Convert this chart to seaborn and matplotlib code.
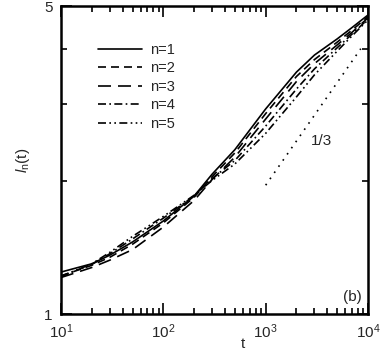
import matplotlib
matplotlib.use("Agg")
import matplotlib.pyplot as plt
import matplotlib.ticker as mticker
import pandas as pd
import seaborn as sns

# time points and l_n(t)
t = [10, 20, 30, 50, 100, 200, 300, 500, 1000, 2000, 3000, 5000, 7000, 10000]
l1 = [1.245, 1.30, 1.36, 1.457, 1.626, 1.852, 2.077, 2.36, 2.92, 3.54, 3.87, 4.21, 4.47, 4.77]
l2 = [1.22, 1.29, 1.345, 1.44, 1.61, 1.84, 2.05, 2.32, 2.85, 3.46, 3.78, 4.14, 4.41, 4.73]
l3 = [1.21, 1.275, 1.325, 1.40, 1.575, 1.81, 2.02, 2.27, 2.77, 3.37, 3.70, 4.08, 4.36, 4.70]
l4 = [1.22, 1.295, 1.37, 1.48, 1.65, 1.855, 2.03, 2.23, 2.67, 3.24, 3.60, 4.02, 4.32, 4.67]
l5 = [1.215, 1.30, 1.38, 1.50, 1.665, 1.86, 2.01, 2.19, 2.57, 3.11, 3.49, 3.95, 4.28, 4.65]
labels = ["n=1", "n=2", "n=3", "n=4", "n=5"]

# slope 1/3 guide line
guide_t = [1000, 8500]
guide_l = [1.96, 4.0]

dfs = []
for lab, vals in zip(labels, [l1, l2, l3, l4, l5]):
    dfs.append(pd.DataFrame({"t": t, "l": vals, "n": lab}))
df = pd.concat(dfs)

sns.set_theme(style="ticks")
plt.rcParams["font.family"] = ["Liberation Sans", "DejaVu Sans"]
plt.rcParams["mathtext.fontset"] = "custom"
plt.rcParams["mathtext.rm"] = "Liberation Sans"
plt.rcParams["mathtext.it"] = "Liberation Sans:italic"

fig = plt.figure(figsize=(3.83, 3.52), dpi=100)
ax = fig.add_axes([61 / 383, 38 / 352, 307 / 383, 308 / 352])

dashes = {
    "n=1": "",
    "n=2": (4.8, 3),
    "n=3": (7.8, 4.2),
    "n=4": (4.8, 2, 1, 2),
    "n=5": (4.8, 2, 1, 2, 1, 2),
}
sns.lineplot(ax=ax, data=df, x="t", y="l", style="n", dashes=dashes,
             color="black", linewidth=1.2, legend=True)
ax.plot(guide_t, guide_l, color="black", linestyle=(0, (1, 3.5)), linewidth=1.2)

ax.set_xscale("log")
ax.set_yscale("log")
ax.set_xlim(10, 10000)
ax.set_ylim(1, 5)

ax.yaxis.set_major_locator(mticker.FixedLocator([1, 5]))
ax.yaxis.set_major_formatter(mticker.FixedFormatter(["1", "5"]))
ax.yaxis.set_minor_locator(mticker.FixedLocator([2, 3, 4]))
ax.yaxis.set_minor_formatter(mticker.NullFormatter())
ax.xaxis.set_major_locator(mticker.LogLocator(base=10, numticks=10))
ax.xaxis.set_minor_locator(mticker.LogLocator(base=10, subs=range(2, 10), numticks=20))
ax.xaxis.set_minor_formatter(mticker.NullFormatter())

ax.tick_params(which="both", direction="in", top=True, right=True,
               labelsize=11, color="black", width=1.2)
ax.tick_params(which="major", length=8, pad=6)
ax.tick_params(which="minor", length=4)
for s in ax.spines.values():
    s.set_linewidth(1.8)
    s.set_color("black")

ax.set_xlabel("t", fontsize=11)
ax.xaxis.set_label_coords(0.593, -0.075)
ax.set_ylabel(r"$l_{\rm n}$(t)", fontsize=11)
ax.yaxis.set_label_coords(-0.095, 0.5)

leg = ax.legend(loc="upper left", bbox_to_anchor=(0.101, 0.90), frameon=False,
                fontsize=10.5, handlelength=3.0, handletextpad=0.55,
                labelspacing=0.31, borderaxespad=0)

ax.text(3550, 2.47, "1/3", fontsize=11, ha="center", va="center")
ax.text(0.98, 0.055, "(b)", fontsize=11, ha="right", va="center",
        transform=ax.transAxes)

fig.savefig("out.png", dpi=100)
